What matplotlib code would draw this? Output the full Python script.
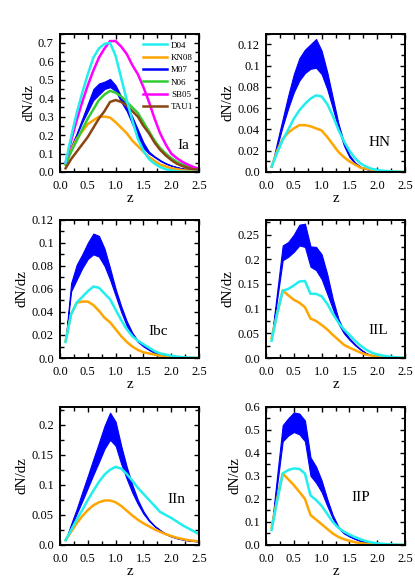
import matplotlib
matplotlib.use("Agg")
import matplotlib.pyplot as plt
from matplotlib.ticker import MultipleLocator, FuncFormatter

plt.rcParams['font.family'] = ['Liberation Serif', 'DejaVu Serif']
plt.rcParams['mathtext.fontset'] = 'stix'

# redshift grid
z = [0.1, 0.2, 0.3, 0.4, 0.5, 0.6, 0.7, 0.8, 0.9, 1.0, 1.1, 1.2, 1.3,
     1.4, 1.5, 1.6, 1.7, 1.8, 1.9, 2.0, 2.1, 2.2, 2.3, 2.4, 2.5]

# Ia
ia_d04 = [0.05, 0.19, 0.32, 0.43, 0.53, 0.62, 0.67, 0.695, 0.70, 0.63, 0.51, 0.39, 0.28,
          0.18, 0.115, 0.07, 0.045, 0.027, 0.015, 0.008, 0.004, 0.002, 0.001, 0.0005, 0.0003]
ia_kn08 = [0.04, 0.12, 0.18, 0.22, 0.26, 0.28, 0.30, 0.30, 0.295, 0.27, 0.24, 0.21, 0.17,
           0.14, 0.11, 0.08, 0.06, 0.04, 0.03, 0.02, 0.015, 0.01, 0.007, 0.005, 0.003]
ia_m07_hi = [0.045, 0.14, 0.21, 0.29, 0.37, 0.45, 0.48, 0.49, 0.505, 0.47, 0.41, 0.36, 0.30,
             0.23, 0.16, 0.11, 0.085, 0.065, 0.048, 0.036, 0.027, 0.02, 0.015, 0.01, 0.007]
ia_m07_lo = [0.04, 0.13, 0.20, 0.27, 0.33, 0.39, 0.42, 0.45, 0.46, 0.44, 0.38, 0.33, 0.26,
             0.19, 0.13, 0.10, 0.08, 0.06, 0.045, 0.034, 0.025, 0.018, 0.013, 0.009, 0.006]
ia_n06 = [0.04, 0.11, 0.17, 0.23, 0.29, 0.34, 0.39, 0.42, 0.44, 0.43, 0.41, 0.38, 0.35,
          0.32, 0.27, 0.22, 0.17, 0.13, 0.10, 0.075, 0.055, 0.04, 0.03, 0.02, 0.015]
ia_sb05 = [0.05, 0.17, 0.28, 0.38, 0.47, 0.55, 0.62, 0.67, 0.71, 0.71, 0.68, 0.64, 0.58,
           0.53, 0.46, 0.38, 0.29, 0.21, 0.15, 0.10, 0.075, 0.055, 0.04, 0.027, 0.018]
ia_tau1 = [0.02, 0.07, 0.11, 0.15, 0.19, 0.24, 0.29, 0.33, 0.38, 0.39, 0.38, 0.36, 0.33,
           0.30, 0.25, 0.21, 0.16, 0.12, 0.09, 0.065, 0.045, 0.032, 0.022, 0.015, 0.01]

# HN
hn_d04 = [0.005, 0.018, 0.03, 0.04, 0.05, 0.058, 0.064, 0.069, 0.072, 0.071, 0.064, 0.053, 0.04,
          0.029, 0.02, 0.013, 0.008, 0.005, 0.003, 0.002, 0.0012, 0.0008, 0.0005, 0.0003, 0.0002]
hn_kn08 = [0.005, 0.02, 0.031, 0.037, 0.041, 0.044, 0.044, 0.043, 0.041, 0.039, 0.033, 0.026, 0.019,
           0.014, 0.01, 0.007, 0.004, 0.003, 0.002, 0.001, 0.0007, 0.0005, 0.0003, 0.0002, 0.0001]
hn_m07_hi = [0.005, 0.028, 0.05, 0.072, 0.092, 0.107, 0.115, 0.12, 0.125, 0.114, 0.094, 0.07, 0.046,
             0.028, 0.016, 0.009, 0.005, 0.003, 0.002, 0.001, 0.0006, 0.0004, 0.0002, 0.0001, 0.0001]
hn_m07_lo = [0.005, 0.024, 0.043, 0.06, 0.075, 0.086, 0.093, 0.097, 0.098, 0.092, 0.078, 0.06, 0.041,
             0.025, 0.014, 0.008, 0.0045, 0.0027, 0.0018, 0.0009, 0.0005, 0.0003, 0.0002, 0.0001, 0.0001]

# Ibc
ibc_d04 = [0.014, 0.038, 0.048, 0.053, 0.058, 0.062, 0.061, 0.056, 0.051, 0.042, 0.033, 0.025, 0.019,
           0.015, 0.012, 0.009, 0.006, 0.004, 0.003, 0.002, 0.0013, 0.0008, 0.0005, 0.0003, 0.0002]
ibc_kn08 = [0.015, 0.038, 0.048, 0.049, 0.049, 0.046, 0.041, 0.035, 0.031, 0.025, 0.019, 0.014, 0.01,
            0.007, 0.005, 0.004, 0.003, 0.002, 0.001, 0.0007, 0.0005, 0.0003, 0.0002, 0.0001, 0.0001]
ibc_m07_hi = [0.015, 0.065, 0.081, 0.09, 0.1, 0.108, 0.106, 0.095, 0.078, 0.06, 0.045, 0.032, 0.022,
              0.015, 0.011, 0.008, 0.005, 0.003, 0.002, 0.001, 0.0007, 0.0004, 0.0002, 0.0001, 0.0001]
ibc_m07_lo = [0.015, 0.058, 0.068, 0.078, 0.086, 0.09, 0.088, 0.08, 0.068, 0.054, 0.04, 0.028, 0.02,
              0.014, 0.01, 0.007, 0.0045, 0.0027, 0.0018, 0.0009, 0.0006, 0.0003, 0.0002, 0.0001, 0.0001]

# IIL
iil_d04 = [0.035, 0.09, 0.136, 0.14, 0.147, 0.155, 0.156, 0.13, 0.13, 0.125, 0.11, 0.09, 0.072,
           0.058, 0.047, 0.035, 0.025, 0.017, 0.011, 0.007, 0.005, 0.003, 0.002, 0.001, 0.001]
iil_kn08 = [0.04, 0.09, 0.137, 0.127, 0.118, 0.112, 0.103, 0.08, 0.075, 0.067, 0.058, 0.047, 0.037,
            0.027, 0.021, 0.016, 0.011, 0.007, 0.005, 0.003, 0.002, 0.0012, 0.0008, 0.0005, 0.0003]
iil_m07_hi = [0.04, 0.134, 0.228, 0.235, 0.25, 0.27, 0.272, 0.226, 0.225, 0.21, 0.17, 0.12, 0.08,
              0.055, 0.04, 0.028, 0.018, 0.01, 0.006, 0.004, 0.002, 0.0012, 0.0008, 0.0005, 0.0003]
iil_m07_lo = [0.04, 0.119, 0.198, 0.205, 0.215, 0.228, 0.225, 0.185, 0.178, 0.16, 0.13, 0.1, 0.07,
              0.05, 0.037, 0.026, 0.017, 0.0095, 0.0057, 0.0038, 0.0019, 0.0011, 0.0007, 0.0004, 0.0003]

# IIn
iin_d04 = [0.008, 0.025, 0.042, 0.058, 0.075, 0.09, 0.105, 0.117, 0.125, 0.13, 0.127, 0.118, 0.107,
           0.095, 0.085, 0.075, 0.065, 0.055, 0.05, 0.045, 0.039, 0.033, 0.028, 0.023, 0.018]
iin_kn08 = [0.008, 0.022, 0.036, 0.048, 0.058, 0.066, 0.071, 0.074, 0.074, 0.071, 0.065, 0.057, 0.049,
            0.042, 0.036, 0.031, 0.026, 0.022, 0.018, 0.015, 0.012, 0.01, 0.008, 0.007, 0.006]
iin_m07_hi = [0.008, 0.035, 0.06, 0.088, 0.115, 0.143, 0.17, 0.198, 0.22, 0.205, 0.165, 0.13, 0.1,
              0.075, 0.056, 0.042, 0.032, 0.025, 0.019, 0.015, 0.012, 0.01, 0.008, 0.007, 0.006]
iin_m07_lo = [0.008, 0.03, 0.052, 0.073, 0.095, 0.117, 0.138, 0.16, 0.175, 0.165, 0.135, 0.11, 0.087,
              0.068, 0.052, 0.04, 0.031, 0.024, 0.018, 0.014, 0.011, 0.009, 0.0075, 0.0065, 0.0055]

# IIP
iip_d04 = [0.065, 0.19, 0.31, 0.325, 0.332, 0.33, 0.31, 0.215, 0.195, 0.17, 0.135, 0.1, 0.075,
           0.058, 0.045, 0.034, 0.025, 0.017, 0.011, 0.007, 0.005, 0.003, 0.002, 0.001, 0.001]
iip_kn08 = [0.075, 0.2, 0.31, 0.285, 0.26, 0.23, 0.2, 0.13, 0.11, 0.09, 0.07, 0.05, 0.035,
            0.025, 0.018, 0.012, 0.008, 0.005, 0.003, 0.002, 0.0012, 0.0008, 0.0005, 0.0003, 0.0002]
iip_m07_hi = [0.075, 0.3, 0.52, 0.55, 0.575, 0.57, 0.54, 0.38, 0.34, 0.28, 0.2, 0.13, 0.08,
              0.055, 0.04, 0.028, 0.018, 0.012, 0.007, 0.004, 0.0025, 0.0015, 0.001, 0.0006, 0.0004]
iip_m07_lo = [0.075, 0.26, 0.45, 0.475, 0.49, 0.48, 0.45, 0.3, 0.27, 0.23, 0.17, 0.115, 0.075,
              0.05, 0.037, 0.026, 0.017, 0.011, 0.0065, 0.0037, 0.0023, 0.0014, 0.0009, 0.0005, 0.0003]

C_D04 = '#22eeee'
C_KN08 = '#ffa500'
C_M07 = '#0000ff'
C_N06 = '#33cc33'
C_SB05 = '#ff00ff'
C_TAU1 = '#8b4513'
LW = 1.8

fig = plt.figure(figsize=(4.15, 5.86), dpi=100)

# axes boxes in figure fraction
col_left = [0.1446, 0.641]
row_bottom = [0.7065, 0.389, 0.07]
w, h = 0.335, 0.236


def yfmt(v, pos):
    if abs(v) < 1e-9:
        return '0.0'
    return f'{v:g}'


def setup(ax, ymax, major, label, lx, ly):
    ax.set_xlim(0, 2.5)
    ax.set_ylim(0, ymax)
    ax.xaxis.set_major_locator(MultipleLocator(0.5))
    ax.xaxis.set_minor_locator(MultipleLocator(0.25))
    ax.yaxis.set_major_locator(MultipleLocator(major))
    ax.yaxis.set_minor_locator(MultipleLocator(major / 2))
    ax.xaxis.set_major_formatter(FuncFormatter(lambda v, p: f'{v:.1f}'))
    ax.yaxis.set_major_formatter(FuncFormatter(yfmt))
    ax.tick_params(which='both', direction='in', top=True, right=True,
                   labelsize=9, width=1.0)
    ax.tick_params(axis='x', pad=5.5)
    ax.tick_params(axis='y', pad=4.5)
    ax.tick_params(which='major', length=3.5)
    ax.tick_params(which='minor', length=3)
    for s in ax.spines.values():
        s.set_linewidth(1.4)
    ax.set_xlabel('z', fontsize=11, labelpad=0)
    ax.set_ylabel('dN/dz', fontsize=11, labelpad=2)
    ax.text(lx, ly, label, transform=ax.transAxes, fontsize=11,
            ha='center', va='center')


def band_panel(ax, d04, kn08, hi, lo):
    ax.fill_between(z, lo, hi, color=C_M07, linewidth=0.8, edgecolor=C_M07)
    ax.plot(z, kn08, color=C_KN08, lw=LW)
    ax.plot(z, d04, color=C_D04, lw=LW)


# Ia
ax = fig.add_axes([col_left[0], row_bottom[0], w, h])
ax.fill_between(z, ia_m07_lo, ia_m07_hi, color=C_M07, linewidth=0.8, edgecolor=C_M07)
ax.plot([], [], color=C_D04, lw=LW, label='D04')
ax.plot(z, ia_kn08, color=C_KN08, lw=LW, label='KN08')
ax.plot([], [], color=C_M07, lw=LW, label='M07')
ax.plot(z, ia_n06, color=C_N06, lw=LW, label='N06')
ax.plot(z, ia_sb05, color=C_SB05, lw=LW, label='SB05')
ax.plot(z, ia_tau1, color=C_TAU1, lw=LW, label='TAU1')
ax.plot(z, ia_d04, color=C_D04, lw=LW)
ax.legend(loc='upper right', bbox_to_anchor=(1.0, 0.985), frameon=False,
          fontsize=6.5, handlelength=2.6, handletextpad=0.5, labelspacing=0.45,
          borderaxespad=0.2)
setup(ax, 0.75, 0.1, 'Ia', 0.885, 0.19)

# HN
ax = fig.add_axes([col_left[1], row_bottom[0], w, h])
band_panel(ax, hn_d04, hn_kn08, hn_m07_hi, hn_m07_lo)
setup(ax, 0.13, 0.02, 'HN', 0.82, 0.21)

# Ibc
ax = fig.add_axes([col_left[0], row_bottom[1], w, h])
band_panel(ax, ibc_d04, ibc_kn08, ibc_m07_hi, ibc_m07_lo)
setup(ax, 0.12, 0.02, 'Ibc', 0.71, 0.19)

# IIL
ax = fig.add_axes([col_left[1], row_bottom[1], w, h])
band_panel(ax, iil_d04, iil_kn08, iil_m07_hi, iil_m07_lo)
setup(ax, 0.28, 0.05, 'IIL', 0.81, 0.2)

# IIn
ax = fig.add_axes([col_left[0], row_bottom[2], w, h])
band_panel(ax, iin_d04, iin_kn08, iin_m07_hi, iin_m07_lo)
setup(ax, 0.23, 0.05, 'IIn', 0.84, 0.33)

# IIP
ax = fig.add_axes([col_left[1], row_bottom[2], w, h])
band_panel(ax, iip_d04, iip_kn08, iip_m07_hi, iip_m07_lo)
setup(ax, 0.6, 0.1, 'IIP', 0.68, 0.34)

fig.savefig('out.png', dpi=100)
